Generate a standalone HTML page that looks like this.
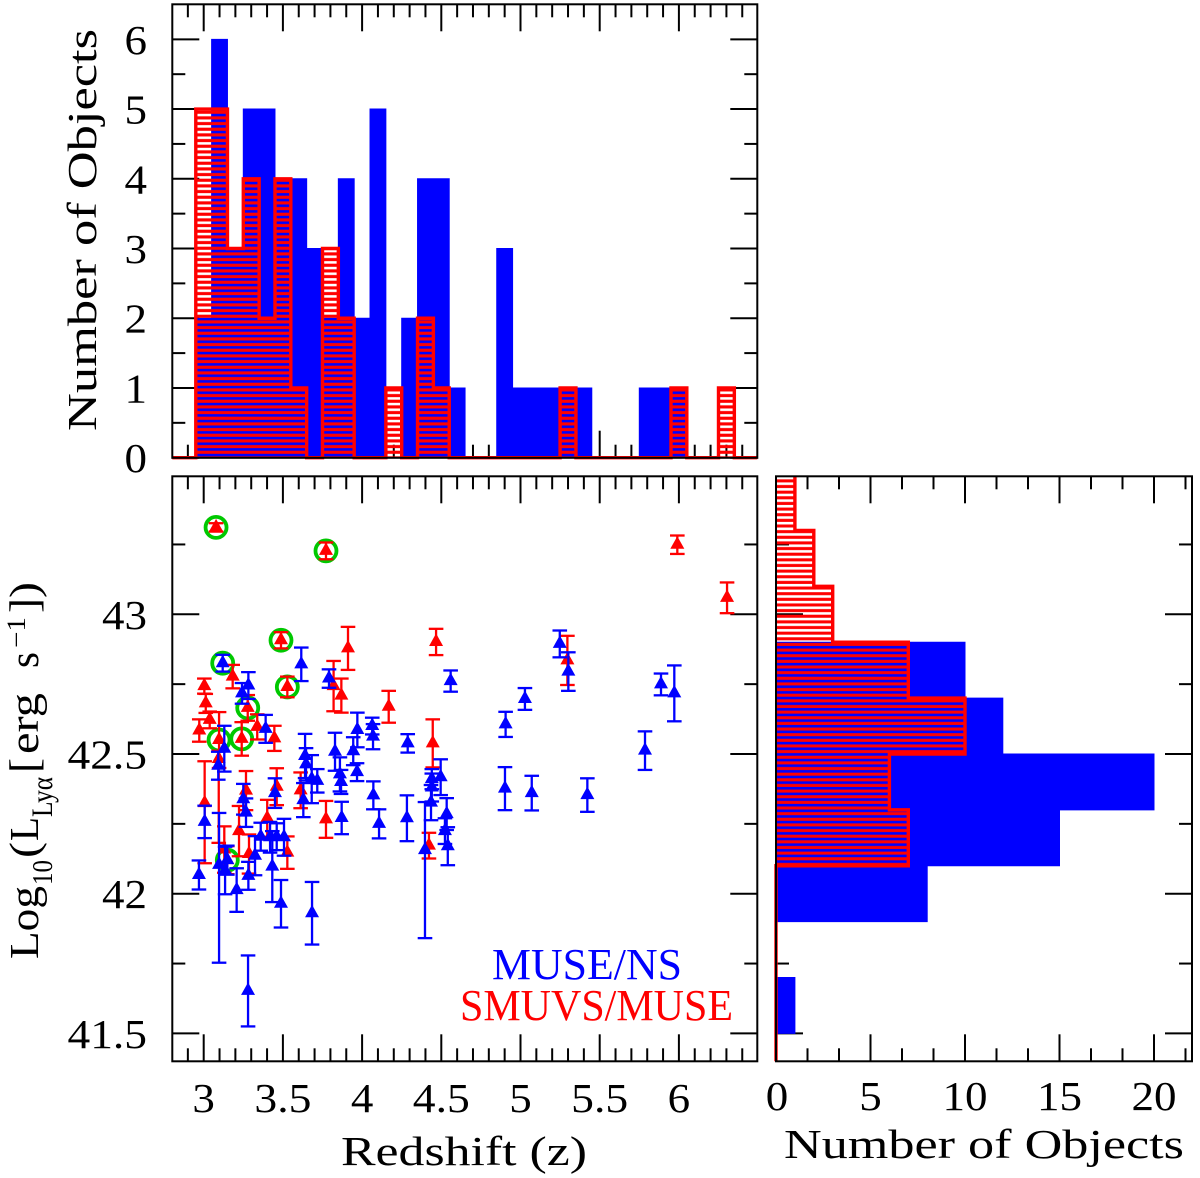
<!DOCTYPE html>
<html lang="en">
<head>
<meta charset="utf-8">
<title>Lyman-alpha luminosity versus redshift</title>
<style>
html,body{margin:0;padding:0;background:#fff;}
svg{display:block;}
text{font-family:"Liberation Serif",serif;fill:#000;}
</style>
</head>
<body>
<svg id="chart" xmlns="http://www.w3.org/2000/svg" width="1200" height="1178" viewBox="0 0 1200 1178">
  <defs>
    <pattern id="hatchTop" patternUnits="userSpaceOnUse" width="10" height="5.667">
      <rect x="0" y="3" width="10" height="2.667" fill="#ff0000"/>
      <rect x="0" y="0" width="10" height="0.45" fill="#ff0000"/>
    </pattern>
    <pattern id="hatchSide" patternUnits="userSpaceOnUse" width="10" height="5.64" patternTransform="translate(0,2.6)">
      <rect x="0" y="3" width="10" height="2.64" fill="#ff0000"/>
      <rect x="0" y="0" width="10" height="0.4" fill="#ff0000"/>
    </pattern>
    <clipPath id="clipTop"><rect x="172" y="4" width="586" height="456"/></clipPath>
    <clipPath id="clipSide"><rect x="774" y="476" width="419" height="587"/></clipPath>
  </defs>
  <g id="ticks"></g>
  <g id="histTop" clip-path="url(#clipTop)"></g>
  <g id="histSide" clip-path="url(#clipSide)"></g>
  <g id="scatter"></g>
  <rect x="172.3" y="4.3" width="585" height="453.5" fill="none" stroke="#000" stroke-width="2"/>
  <rect x="172.3" y="476.3" width="585" height="585" fill="none" stroke="#000" stroke-width="2"/>
  <rect x="776" y="476.3" width="416" height="585" fill="none" stroke="#000" stroke-width="2"/>
  <g id="labels"></g>

  <text transform="translate(96,431) rotate(-90)" font-size="41" textLength="402" lengthAdjust="spacingAndGlyphs">Number of Objects</text>
  <text x="341" y="1165" font-size="41" textLength="246" lengthAdjust="spacingAndGlyphs">Redshift (z)</text>
  <text x="784" y="1158" font-size="41" textLength="400" lengthAdjust="spacingAndGlyphs">Number of Objects</text>

  <g>
    <text transform="translate(38,959) rotate(-90)" font-size="41" textLength="73" lengthAdjust="spacingAndGlyphs">Log</text>
    <text transform="translate(52,885) rotate(-90)" font-size="29" textLength="25" lengthAdjust="spacingAndGlyphs">10</text>
    <text transform="translate(38,858) rotate(-90)" font-size="41" textLength="16" lengthAdjust="spacingAndGlyphs">(</text>
    <text transform="translate(38,841) rotate(-90)" font-size="41" textLength="24" lengthAdjust="spacingAndGlyphs">L</text>
    <text transform="translate(52,817) rotate(-90)" font-size="30" textLength="40" lengthAdjust="spacingAndGlyphs">Lyα</text>
    <text transform="translate(38,773) rotate(-90)" font-size="41" textLength="15" lengthAdjust="spacingAndGlyphs">[</text>
    <text transform="translate(38,754) rotate(-90)" font-size="41" textLength="61" lengthAdjust="spacingAndGlyphs">erg</text>
    <text transform="translate(38,668) rotate(-90)" font-size="41" textLength="16" lengthAdjust="spacingAndGlyphs">s</text>
    <text transform="translate(25,648) rotate(-90)" font-size="26" textLength="31" lengthAdjust="spacingAndGlyphs">−1</text>
    <text transform="translate(38,613) rotate(-90)" font-size="41" textLength="15" lengthAdjust="spacingAndGlyphs">]</text>
    <text transform="translate(38,598) rotate(-90)" font-size="41" textLength="16" lengthAdjust="spacingAndGlyphs">)</text>
  </g>

  <text x="492" y="979" font-size="44" textLength="190" lengthAdjust="spacingAndGlyphs" style="fill:#0000ff">MUSE/NS</text>
  <text x="460" y="1020" font-size="44" textLength="273" lengthAdjust="spacingAndGlyphs" style="fill:#ff0000">SMUVS/MUSE</text>
</svg>

<script>
// ---- data ----
const zBinStart = 2.95;
const zBinWidth = 0.1;
const blueCountsZ = [2,6,3,5,5,4,4,3,2,4,2,5,0,2,4,4,1,0,0,3,1,1,1,1,1,0,0,0,1,1,1,0,0,0];
const redCountsZ  = [5,5,3,4,2,4,1,0,3,2,0,0,1,0,2,1,0,0,0,0,0,0,0,1,0,0,0,0,0,0,1,0,0,1];

const lumBinStart = 41.5;
const lumBinWidth = 0.2;
const blueCountsL = [1,0,8,15,20,12,10,0,0,0];
const redCountsL  = [0,0,0,7,6,10,7,3,2,1];

const blueZ  = [3.12,3.282,3.242,3.616,3.791,3.97,3.13,3.092,3.391,3.006,2.97,3.097,3.135,3.149,3.208,3.282,3.324,3.25,3.267,3.45,3.36,3.419,3.461,3.507,3.433,3.488,3.684,3.28,3.871,3.629,3.64,3.646,3.682,3.717,3.829,3.86,3.867,3.944,3.968,4.559,5.028,4.906,4.064,4.069,4.288,4.496,4.44,4.44,4.435,4.071,4.107,4.283,4.534,4.523,4.541,4.397,4.902,5.071,5.248,5.302,5.887,5.971,5.786,5.422];
const blueL  = [42.825,42.745,42.717,42.821,42.77,42.586,42.519,42.458,42.59,42.257,42.067,42.103,42.083,42.12,42.013,42.064,42.136,42.338,42.29,42.36,42.204,42.202,42.204,42.202,42.097,41.964,41.93,41.652,42.271,42.335,42.493,42.463,42.41,42.404,42.508,42.427,42.4,42.51,42.435,42.761,42.697,42.606,42.6,42.562,42.538,42.417,42.41,42.38,42.326,42.352,42.25,42.27,42.285,42.224,42.17,42.156,42.376,42.36,42.894,42.795,42.749,42.717,42.512,42.353];
const blueUp = [.03,.048,.037,.06,.033,.062,.082,.05,.05,.058,.052,.186,.085,.052,.078,.05,.07,.055,.051,.053,.05,.055,.048,.066,.127,.085,.112,.127,.058,.061,.079,.058,.086,.042,.068,.061,.043,.05,.032,.038,.039,.045,.03,.045,.033,.064,.036,.05,.063,.05,.052,.082,.057,.046,.068,.172,.077,.062,.048,.069,.039,.1,.069,.06];
const blueDn = [.03,.048,.037,.06,.033,.062,.082,.05,.05,.058,.052,.35,.085,.052,.078,.05,.07,.055,.051,.053,.05,.055,.048,.066,.127,.085,.112,.127,.058,.061,.079,.058,.086,.042,.068,.061,.043,.05,.032,.038,.039,.045,.03,.045,.033,.064,.036,.05,.063,.05,.052,.082,.057,.046,.068,.315,.077,.062,.048,.069,.039,.1,.069,.06];

const redZ  = [3.078,3.772,3.488,3.183,3.278,3.528,3.911,3.82,3.869,3.004,3.013,2.972,3.038,3.097,3.095,3.24,3.338,3.446,3.006,3.13,3.223,3.286,3.267,3.461,3.401,3.528,3.772,3.612,4.467,4.168,4.446,4.422,5.99,6.304,5.296,3.149];
const redL  = [43.311,43.227,42.907,42.777,42.665,42.74,42.878,42.743,42.709,42.743,42.681,42.584,42.622,42.55,42.482,42.554,42.597,42.556,42.324,42.158,42.224,42.142,42.369,42.383,42.27,42.147,42.266,42.37,42.901,42.669,42.538,42.172,43.249,43.059,42.835,42.12];
const redUp = [.015,.03,.029,.042,.046,.037,.077,.09,.061,.027,.034,.04,.03,.1,.03,.06,.045,.045,.15,.083,.09,.07,.07,.066,.066,.058,.066,.064,.047,.057,.086,.046,.033,.055,.088,.05];
const redDn = [.015,.03,.029,.042,.046,.037,.077,.09,.061,.027,.034,.04,.03,.1,.3,.06,.045,.045,.215,.083,.09,.07,.07,.066,.066,.058,.066,.064,.047,.057,.086,.046,.033,.055,.088,.05];

const ringZ = [3.078,3.772,3.488,3.12,3.278,3.528,3.097,3.24,3.149];
const ringL = [43.311,43.227,42.907,42.825,42.665,42.74,42.55,42.554,42.12];

const zTickLabels = ["3","3.5","4","4.5","5","5.5","6"];
const lTickLabels = ["41.5","42","42.5","43"];
const countTickLabels = ["0","1","2","3","4","5","6"];
const sideTickLabels = ["0","5","10","15","20"];

// ---- axis functions ----
const xZ = z => 203.7 + (z - 3) * 158.4;
const yL = l => 614.3 - (l - 43) * 279.4;
const yCount = c => 457.7 - c * 69.73;
const xCount = c => 776 + c * 18.9;

const NS = 'http://www.w3.org/2000/svg';
const tickG = document.getElementById('ticks');
const labelG = document.getElementById('labels');
const histTop = document.getElementById('histTop');
const histSide = document.getElementById('histSide');
const scatter = document.getElementById('scatter');

function line(parent, x1, y1, x2, y2, color, w, name) {
  const el = document.createElementNS(NS, 'line');
  
  
  el.setAttribute('x1', x1);
  el.setAttribute('y1', y1);
  el.setAttribute('x2', x2);
  el.setAttribute('y2', y2);
  el.setAttribute('stroke', color);
  el.setAttribute('stroke-width', w);
  parent.appendChild(el);
  return el;
}

function vTicks(xFn, from, step, n, majorEvery, offset, yTop, yBottom) {
  for (let i = 0; i < n; i++) {
    const v = from + i * step;
    const len = (i % majorEvery === offset) ? 27 : 13;
    line(tickG, xFn(v), yTop, xFn(v), yTop + len, '#000', 2, 'x-tick');
    line(tickG, xFn(v), yBottom, xFn(v), yBottom - len, '#000', 2, 'x-tick');
  }
}
function hTicks(yFn, from, step, n, majorEvery, offset, xLeft, xRight) {
  for (let i = 0; i < n; i++) {
    const v = from + i * step;
    const len = (i % majorEvery === offset) ? 27 : 13;
    line(tickG, xLeft, yFn(v), xLeft + len, yFn(v), '#000', 2, 'y-tick');
    line(tickG, xRight, yFn(v), xRight - len, yFn(v), '#000', 2, 'y-tick');
  }
}

vTicks(xZ, 2.9, 0.1, 36, 5, 1, 4.3, 457.7);
vTicks(xZ, 2.9, 0.1, 36, 5, 1, 476.3, 1061.3);
hTicks(yCount, 0, 0.5, 13, 2, 0, 172.3, 757.3);
hTicks(yL, 41.5, 0.25, 8, 2, 0, 172.3, 757.3);
hTicks(yL, 41.5, 0.25, 8, 2, 0, 776, 1192);
vTicks(xCount, 0, 5 / 3, 14, 3, 0, 476.3, 1061.3);

function label(text, x, y, anchor, name) {
  const el = document.createElementNS(NS, 'text');
  
  
  el.setAttribute('x', x);
  el.setAttribute('y', y);
  el.setAttribute('font-size', '41');
  el.setAttribute('text-anchor', anchor);
  const digits = text.replace('.', '').length;
  const dots = text.length - digits;
  el.setAttribute('textLength', digits * 22.5 + dots * 12);
  el.setAttribute('lengthAdjust', 'spacingAndGlyphs');
  el.textContent = text;
  labelG.appendChild(el);
}
zTickLabels.forEach(t => label(t, xZ(parseFloat(t)), 1112, 'middle', 'x-tick-label'));
lTickLabels.forEach(t => label(t, 147, yL(parseFloat(t)) + 14.5, 'end', 'y-tick-label'));
countTickLabels.forEach(t => label(t, 147, yCount(parseFloat(t)) + 14.5, 'end', 'count-tick-label'));
sideTickLabels.forEach(t => label(t, xCount(parseFloat(t)) + (t === '0' ? 1 : 0), 1110, 'middle', 'side-x-tick-label'));

function path(parent, d, fill, stroke, w, name) {
  const el = document.createElementNS(NS, 'path');
  
  
  el.setAttribute('d', d);
  el.setAttribute('fill', fill);
  el.setAttribute('stroke', stroke);
  el.setAttribute('stroke-width', w);
  el.setAttribute('stroke-linejoin', 'miter');
  parent.appendChild(el);
  return el;
}

// horizontal-axis histogram envelope
function stepZ(counts) {
  let d = 'M172.3 ' + yCount(0);
  counts.forEach((c, i) => {
    const a = xZ(zBinStart + i * zBinWidth);
    const b = xZ(zBinStart + (i + 1) * zBinWidth);
    d += ' L' + a + ' ' + (i === 0 ? yCount(0) : yCount(counts[i - 1]));
    d += ' L' + a + ' ' + yCount(c);
    d += ' L' + b + ' ' + yCount(c);
  });
  const last = xZ(zBinStart + counts.length * zBinWidth);
  d += ' L' + last + ' ' + yCount(0) + ' L757.3 ' + yCount(0);
  return d;
}
path(histTop, stepZ(blueCountsZ) + ' Z', '#0000ff', '#0000ff', 1, 'blue-redshift-bars');
path(histTop, stepZ(redCountsZ) + ' Z', 'url(#hatchTop)', 'none', 0, 'red-redshift-hatch');
path(histTop, stepZ(redCountsZ), 'none', '#ff0000', 3.4, 'red-redshift-outline');

// vertical-axis histogram envelope
function stepL(counts) {
  let d = 'M' + xCount(0) + ' 1061.3';
  counts.forEach((c, i) => {
    const a = yL(lumBinStart + i * lumBinWidth);
    const b = yL(lumBinStart + (i + 1) * lumBinWidth);
    d += ' L' + (i === 0 ? xCount(0) : xCount(counts[i - 1])) + ' ' + a;
    d += ' L' + xCount(c) + ' ' + a;
    d += ' L' + xCount(c) + ' ' + b;
  });
  return d;
}
path(histSide, stepL(blueCountsL) + ' L' + xCount(0) + ' 470 Z', '#0000ff', '#0000ff', 1, 'blue-luminosity-bars');
path(histSide, stepL(redCountsL) + ' L' + xCount(0) + ' 470 Z', 'url(#hatchSide)', 'none', 0, 'red-luminosity-hatch');
path(histSide, stepL(redCountsL), 'none', '#ff0000', 3.4, 'red-luminosity-outline');

// scatter
ringZ.forEach((z, i) => {
  const el = document.createElementNS(NS, 'circle');
  
  
  el.setAttribute('cx', xZ(z));
  el.setAttribute('cy', yL(ringL[i]));
  el.setAttribute('r', 10.5);
  el.setAttribute('fill', 'none');
  el.setAttribute('stroke', '#00c800');
  el.setAttribute('stroke-width', 3.8);
  scatter.appendChild(el);
});

function drawPoints(zs, ls, ups, dns, color, name) {
  zs.forEach((z, i) => {
    const x = xZ(z);
    const y = yL(ls[i]);
    const top = yL(ls[i] + ups[i]);
    const bot = yL(ls[i] - dns[i]);
    line(scatter, x, top, x, bot, color, 2.3, name + '-error-bar');
    line(scatter, x - 7.3, top, x + 7.3, top, color, 2.3, name + '-error-cap');
    line(scatter, x - 7.3, bot, x + 7.3, bot, color, 2.3, name + '-error-cap');
    const el = document.createElementNS(NS, 'polygon');
    
    
    el.setAttribute('points', x + ',' + (y - 8.5) + ' ' + (x + 7) + ',' + (y + 4) + ' ' + (x - 7) + ',' + (y + 4));
    el.setAttribute('fill', color);
    scatter.appendChild(el);
  });
}
drawPoints(redZ, redL, redUp, redDn, '#ff0000', 'smuvs-muse');
drawPoints(blueZ, blueL, blueUp, blueDn, '#0000ff', 'muse-ns');
</script>
</body>
</html>
